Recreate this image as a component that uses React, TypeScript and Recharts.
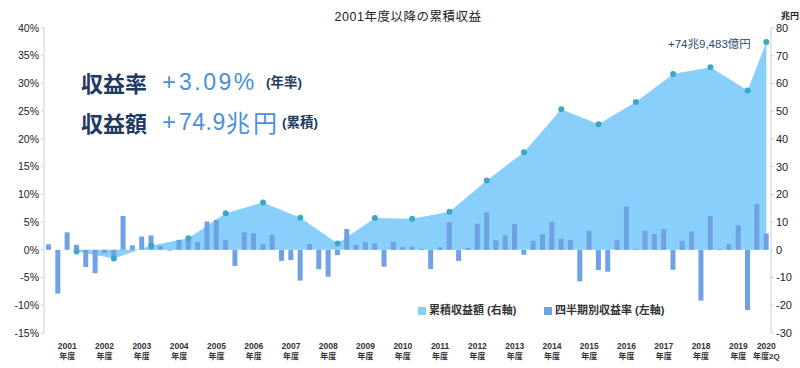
import React from 'react';
import { ComposedChart, Area, Bar, Line, XAxis, YAxis } from 'recharts';

// Fiscal years (2020 only up to Q2)
const fiscalYears = ['2001','2002','2003','2004','2005','2006','2007','2008','2009','2010','2011','2012','2013','2014','2015','2016','2017','2018','2019','2020'];

// Quarterly returns (%), left axis
const quarterlyReturns = [
  1.0, -7.9, 3.15, 0.9,
  -3.1, -4.2, -0.6, -1.8,
  6.1, 0.8, 2.4, 2.6,
  0.7, -0.15, 1.8, 2.0,
  1.4, 5.1, 5.4, 1.8,
  -2.9, 3.15, 3.0, 1.0,
  2.65, -2.0, -1.85, -5.55,
  1.05, -3.5, -4.85, -0.95,
  3.75, 0.9, 1.4, 1.15,
  -3.05, 1.4, 0.5, 0.55,
  0.15, -3.45, 0.45, 5.0,
  -2.0, 0.3, 4.7, 6.75,
  1.7, 2.6, 4.65, -0.9,
  1.65, 2.8, 5.05, 2.0,
  1.75, -5.7, 3.45, -3.65,
  -3.95, 1.7, 7.8, 0.15,
  3.45, 2.85, 3.75, -3.6,
  1.6, 3.3, -9.15, 6.1,
  0.15, 1.0, 4.45, -10.85,
  8.25, 2.95,
];

// Cumulative return (兆円), right axis: each fiscal year end, then 2020 Q2
const cumulativeValues = [-0.6, -3.1, 1.6, 4.2, 13.2, 17.1, 11.6, 2.3, 11.5, 11.2, 13.7, 25.0, 35.2, 50.7, 45.3, 53.3, 63.4, 65.8, 57.5, 74.95];

const leftTicks = [-15, -10, -5, 0, 5, 10, 15, 20, 25, 30, 35, 40];
const rightTicks = [-30, -20, -10, 0, 10, 20, 30, 40, 50, 60, 70, 80];

const lastIndex = quarterlyReturns.length - 1;

const data = quarterlyReturns.map((q, i) => {
  const yearIdx = Math.floor(i / 4);
  const qn = (i % 4) + 1;
  let cum: number | null = null;
  if (qn === 4) cum = cumulativeValues[yearIdx];
  if (i === lastIndex) cum = cumulativeValues[cumulativeValues.length - 1];
  let tickTop = '';
  let tickBottom = '';
  if (i === lastIndex) {
    tickTop = fiscalYears[yearIdx];
    tickBottom = '年度2Q';
  } else if (qn === 3) {
    tickTop = fiscalYears[yearIdx];
    tickBottom = '年度';
  }
  return { quarter: `${fiscalYears[yearIdx]}Q${qn}`, q, cum, tickTop, tickBottom };
});

const AREA = '#89CFFB';
const BAR = '#6EA2E2';
const DOT = '#3AA8C6';
const NAVY = '#1F3B63';
const LIGHT = '#4A90DB';
const FONT = "'Liberation Sans', 'Noto Sans CJK JP', sans-serif";
const CJK = "'Noto Sans CJK JP', sans-serif";

const XTick = (props: any) => {
  const { x, y, payload } = props;
  const row = data[payload.index];
  if (!row || !row.tickTop) return <g />;
  return (
    <g>
      <text x={x} y={y + 16} textAnchor="middle" fontSize={8.5} fontWeight={700} fill="#333" fontFamily={FONT}>{row.tickTop}</text>
      <text x={x} y={y + 25.5} textAnchor="middle" fontSize={8} fontWeight={700} fill="#333" fontFamily={FONT}>{row.tickBottom}</text>
    </g>
  );
};

const renderDot = (props: any) => {
  const { cx, cy, payload, index } = props;
  if (payload == null || payload.cum == null || cx == null || cy == null) return <g key={`d${index}`} />;
  return <circle key={`d${index}`} cx={cx} cy={cy} r={3} fill={DOT} />;
};

const abs = (top: number, left: number, extra: React.CSSProperties = {}): React.CSSProperties => ({
  position: 'absolute', top, left, whiteSpace: 'nowrap', lineHeight: '24px', fontFamily: FONT, ...extra,
});

export default function App() {
  return (
    <div style={{ position: 'absolute', left: 0, top: 0, width: 800, height: 368, fontFamily: FONT, background: '#fff' }}>
      <ComposedChart width={800} height={368} data={data} margin={{ top: 28, right: 0, bottom: 0, left: 0 }}>
        <XAxis dataKey="quarter" interval={0} tickLine={false} axisLine={false} height={35} tickSize={0} tickMargin={0} tick={(p: any) => <XTick {...p} />} />
        <YAxis yAxisId="left" orientation="left" width={44} domain={[-15, 40]} ticks={leftTicks} tickFormatter={(v: number) => `${v}%`} tickSize={3} tickMargin={2} axisLine={{ stroke: '#cfcfcf' }} tickLine={{ stroke: '#cfcfcf' }} tick={{ fontSize: 10.5, fill: '#222', fontFamily: FONT }} allowDataOverflow />
        <YAxis yAxisId="right" orientation="right" width={29} domain={[-30, 80]} ticks={rightTicks} tickSize={3} tickMargin={2} axisLine={{ stroke: '#cfcfcf' }} tickLine={{ stroke: '#cfcfcf' }} tick={{ fontSize: 11, fill: '#222', fontFamily: FONT }} allowDataOverflow />
        <Area yAxisId="right" type="linear" dataKey="cum" connectNulls baseValue={0} fill={AREA} fillOpacity={1} stroke="none" dot={false} activeDot={false} isAnimationActive={false} />
        <Bar yAxisId="left" dataKey="q" fill={BAR} barSize={5} isAnimationActive={false} />
        <Line yAxisId="right" type="linear" dataKey="cum" connectNulls stroke="none" dot={renderDot} activeDot={false} isAnimationActive={false} />
      </ComposedChart>

      {/* Title */}
      <div style={{ position: 'absolute', top: 9, left: 0, width: 816, textAlign: 'center', fontSize: 12.5, color: '#222', fontFamily: FONT, letterSpacing: 0.5, lineHeight: '16px' }}>2001年度以降の累積収益</div>
      <div style={{ position: 'absolute', top: 9, left: 781, fontSize: 9, fontWeight: 700, color: '#222', lineHeight: '14px', whiteSpace: 'nowrap' }}>兆円</div>

      {/* Annotation */}
      <div style={{ position: 'absolute', top: 36, left: 668, fontSize: 11.5, color: '#2E4A75', lineHeight: '16px', whiteSpace: 'nowrap', fontFamily: FONT }}>+74兆9,483億円</div>

      {/* Big summary text, row 1 */}
      <div style={abs(70, 81, { fontSize: 22, fontWeight: 700, color: NAVY, fontFamily: CJK })}>収益率</div>
      <div style={abs(70, 162, { fontSize: 24, color: LIGHT })}>+</div>
      <div style={abs(70, 179, { fontSize: 23, color: LIGHT, letterSpacing: 2.5 })}>3.09%</div>
      <div style={abs(71, 266, { fontSize: 13.5, color: NAVY, fontWeight: 700 })}>(年率)</div>

      {/* Big summary text, row 2 */}
      <div style={abs(110, 81, { fontSize: 22, fontWeight: 700, color: NAVY, fontFamily: CJK })}>収益額</div>
      <div style={abs(110, 162, { fontSize: 24, color: LIGHT })}>+</div>
      <div style={abs(110, 179, { fontSize: 23, color: LIGHT, letterSpacing: 0.5 })}>74.9</div>
      <div style={abs(110, 226, { fontSize: 24, color: LIGHT, fontFamily: CJK, letterSpacing: 3 })}>兆円</div>
      <div style={abs(111, 282, { fontSize: 13.5, color: NAVY, fontWeight: 700 })}>(累積)</div>

      {/* Legend */}
      <div style={{ position: 'absolute', top: 307, left: 418, width: 8, height: 8, background: AREA }} />
      <div style={{ position: 'absolute', top: 302, left: 429, fontSize: 11, color: '#333', lineHeight: '16px', whiteSpace: 'nowrap', fontWeight: 700 }}>累積収益額 (右軸)</div>
      <div style={{ position: 'absolute', top: 307, left: 544, width: 8, height: 8, background: BAR }} />
      <div style={{ position: 'absolute', top: 302, left: 555, fontSize: 11, color: '#333', lineHeight: '16px', whiteSpace: 'nowrap', fontWeight: 700 }}>四半期別収益率 (左軸)</div>
    </div>
  );
}
